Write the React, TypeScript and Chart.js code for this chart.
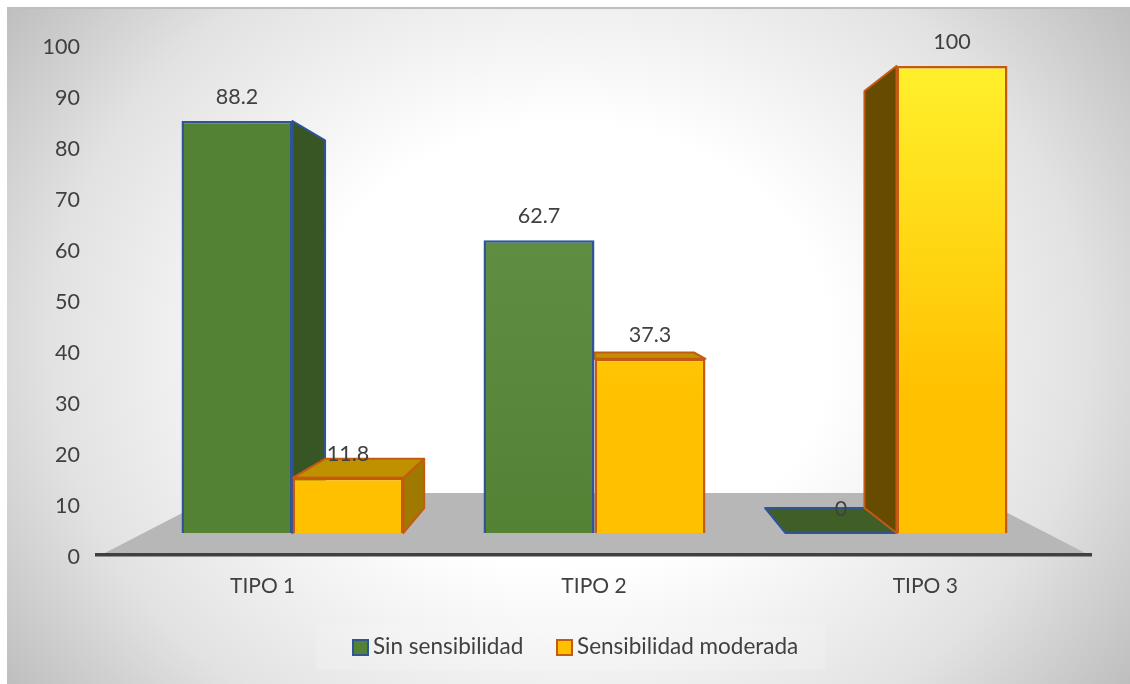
import React, { useEffect, useRef } from "react";
import { Chart, registerables } from "chart.js";

Chart.register(...registerables);

const categories = ["TIPO 1", "TIPO 2", "TIPO 3"];
const categoryPositions = [1, 2, 3];
const sinSensibilidad = [88.2, 62.7, 0];
const sensibilidadModerada = [11.8, 37.3, 100];
const seriesNames = ["Sin sensibilidad", "Sensibilidad moderada"];
const axisTicks = { min: 0, max: 100, step: 10 };

const FONT = "Lato, Carlito, Calibri, sans-serif";
const TEXT = "#404040";
const VP = { x: 597, y: 300 };
const DEPTH = 0.107;

const back = (x: number, y: number) => ({
  x: x + DEPTH * (VP.x - x),
  y: y + DEPTH * (VP.y - y),
});

function poly(ctx: CanvasRenderingContext2D, pts: { x: number; y: number }[], fill: string, stroke: string) {
  ctx.beginPath();
  pts.forEach((p, i) => (i ? ctx.lineTo(p.x, p.y) : ctx.moveTo(p.x, p.y)));
  ctx.closePath();
  ctx.fillStyle = fill;
  ctx.fill();
  ctx.lineJoin = "round";
  ctx.lineWidth = 2;
  ctx.strokeStyle = stroke;
  ctx.stroke();
}

const faceColors = [
  { side: "#375623", top: "#3F5F27", edge: "#2F5597", legend: "#548235" },
  { side: "#664B00", top: "#BF9000", edge: "#C55A11", legend: "#FFC000" },
];
const yellowSide = "#A07A00";
const legendBoxes = [353, 557];

const scene = {
  id: "scene",
  beforeDraw(chart: any) {
    const { ctx, width, height } = chart;
    ctx.save();
    ctx.fillStyle = "#ffffff";
    ctx.fillRect(0, 0, width, height);
    const x0 = 7, y0 = 8;
    ctx.save();
    ctx.beginPath();
    ctx.rect(x0, y0, width - x0, height - y0);
    ctx.clip();
    ctx.translate(568, 346);
    ctx.scale(690, 585);
    const g = ctx.createRadialGradient(0, 0, 0, 0, 0, 1);
    g.addColorStop(0, "#ffffff");
    g.addColorStop(0.38, "#ffffff");
    g.addColorStop(0.75, "#e2e2e2");
    g.addColorStop(1, "#bebebe");
    ctx.fillStyle = g;
    ctx.fillRect(-2, -2, 4, 4);
    ctx.restore();
    ctx.fillStyle = "#bfbfbf";
    ctx.fillRect(x0, y0 - 1, width - x0, 2);
    // legend backdrop
    ctx.fillStyle = "rgba(255,255,255,0.15)";
    ctx.fillRect(316, 625, 510, 45);
    // legend
    ctx.font = `22.5px ${FONT}`;
    ctx.textAlign = "left";
    ctx.textBaseline = "middle";
    seriesNames.forEach((name, i) => {
      const x = legendBoxes[i];
      ctx.fillStyle = faceColors[i].legend;
      ctx.fillRect(x, 640, 15, 15);
      ctx.strokeStyle = faceColors[i].edge;
      ctx.lineWidth = 2;
      ctx.strokeRect(x, 640, 15, 15);
      ctx.fillStyle = TEXT;
      ctx.fillText(name, x + 20, 647);
    });
    // floor
    const area = chart.chartArea;
    const yF = area.bottom;
    const l = area.left + 4, r = area.right - 2;
    ctx.beginPath();
    ctx.moveTo(l, yF);
    ctx.lineTo(l + 120, 493);
    ctx.lineTo(r - 120, 493);
    ctx.lineTo(r, yF);
    ctx.closePath();
    ctx.fillStyle = "#b7b7b7";
    ctx.fill();
    ctx.restore();
  },
  beforeDatasetsDraw(chart: any) {
    const { ctx } = chart;
    ctx.save();
    chart.data.datasets.forEach((_d: any, di: number) => {
      const c = faceColors[di];
      chart.getDatasetMeta(di).data.forEach((bar: any) => {
        const half = bar.width / 2;
        const L = bar.x - half, R = bar.x + half, T = bar.y, B = bar.base;
        if (R < VP.x - 5) {
          const side = di === 1 ? yellowSide : c.side;
          poly(ctx, [{ x: R, y: T }, back(R, T), back(R, B), { x: R, y: B }], side, c.edge);
        }
        if (L > VP.x + 5) {
          poly(ctx, [{ x: L, y: T }, back(L, T), back(L, B), { x: L, y: B }], c.side, c.edge);
        }
        if (T > VP.y) {
          poly(ctx, [{ x: L, y: T }, { x: R, y: T }, back(R, T), back(L, T)], c.top, c.edge);
        }
      });
    });
    ctx.restore();
  },
  afterDatasetsDraw(chart: any) {
    const { ctx } = chart;
    ctx.save();
    ctx.font = `21.5px ${FONT}`;
    ctx.fillStyle = TEXT;
    ctx.textAlign = "center";
    ctx.textBaseline = "middle";
    chart.data.datasets.forEach((d: any, di: number) => {
      chart.getDatasetMeta(di).data.forEach((bar: any, i: number) => {
        ctx.fillText(String(d.data[i].y), bar.x, bar.y - 24);
      });
    });
    ctx.restore();
  },
};

export default function App() {
  const ref = useRef<HTMLCanvasElement | null>(null);
  useEffect(() => {
    const canvas = ref.current!;
    const ctx = canvas.getContext("2d")!;
    const greenMid = ctx.createLinearGradient(0, 241, 0, 533);
    greenMid.addColorStop(0, "#5F8E42");
    greenMid.addColorStop(1, "#548235");
    const yellow = ctx.createLinearGradient(0, 68, 0, 400);
    yellow.addColorStop(0, "#FFF02B");
    yellow.addColorStop(1, "#FFC000");
    const chart = new Chart(canvas, {
      type: "bar",
      data: {
        labels: categories,
        datasets: [
          {
            label: seriesNames[0],
            data: categoryPositions.map((x, i) => ({ x, y: sinSensibilidad[i] })),
            backgroundColor: ["#548235", greenMid, "#548235"],
            borderColor: "#2F5597",
            borderWidth: 2.5,
            xAxisID: "xBar",
            yAxisID: "yBar",
            categoryPercentage: 0.735,
            barPercentage: 1,
          },
          {
            label: seriesNames[1],
            data: categoryPositions.map((x, i) => ({ x, y: sensibilidadModerada[i] })),
            backgroundColor: yellow,
            borderColor: "#C55A11",
            borderWidth: 2.5,
            xAxisID: "xBar",
            yAxisID: "yBar",
            categoryPercentage: 0.735,
            barPercentage: 1,
          },
        ] as any,
      },
      options: {
        responsive: false,
        animation: false,
        events: [],
        layout: { padding: { left: 40, right: 39, top: 45, bottom: 14 } },
        plugins: {
          tooltip: { enabled: false },
          legend: { display: false },
        },
        scales: {
          x: {
            type: "category",
            offset: true,
            grid: { display: false, drawTicks: false },
            border: { display: true, color: "#404040", width: 3.5 },
            ticks: { color: TEXT, font: { family: FONT, size: 21 }, padding: 19, maxRotation: 0 },
            afterFit: (s: any) => { s.height = 115; },
          },
          y: {
            type: "linear",
            min: axisTicks.min,
            max: axisTicks.max,
            grid: { display: false, drawTicks: false },
            border: { display: false },
            ticks: {
              stepSize: axisTicks.step,
              color: TEXT,
              font: { family: FONT, size: 21.5 },
              padding: 17,
              labelOffset: 2,
            },
            afterFit: (s: any) => { s.width = 57; },
          },
          xBar: {
            type: "linear",
            display: false,
            min: 0.3527,
            max: 3.644,
            offset: false,
            afterBuildTicks: (s: any) => { s.ticks = categoryPositions.map((value) => ({ value })); },
          },
          yBar: {
            type: "linear",
            display: false,
            min: -4.72,
            max: 104.5,
          },
        },
      } as any,
      plugins: [scene],
    });
    return () => chart.destroy();
  }, []);
  return (
    <div style={{ position: "absolute", left: 0, top: 0 }}>
      <canvas ref={ref} width={1130} height={684} style={{ display: "block" }} />
    </div>
  );
}
